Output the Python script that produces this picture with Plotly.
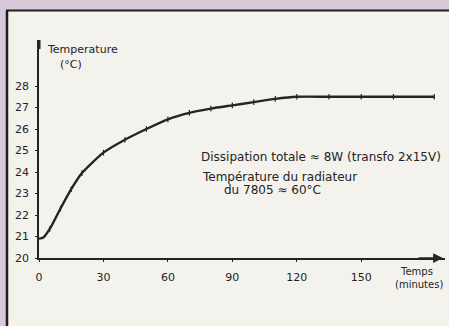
import plotly.graph_objects as go

# couleurs du scan
PAPER = "#f3f2ed"
FRAME = "#d9c7da"
INK = "#242424"

# temps (minutes) / température (°C)
temps = [0, 2, 5, 10, 15, 20, 30, 40, 50, 60, 70, 80, 90, 100, 110, 120, 135, 150, 165, 184]
temperature = [20.9, 20.95, 21.35, 22.3, 23.2, 23.95, 24.9, 25.5, 26.0, 26.45, 26.75,
               26.95, 27.1, 27.25, 27.4, 27.5, 27.5, 27.5, 27.5, 27.5]

x_ticks = [0, 30, 60, 90, 120, 150]
y_ticks = [20, 21, 22, 23, 24, 25, 26, 27, 28]

FONT = "DejaVu Sans"

fig = go.Figure()

fig.add_trace(go.Scatter(
    x=temps, y=temperature,
    mode="lines",
    line=dict(color=INK, width=2.4, shape="spline", smoothing=0.6),
    hoverinfo="skip",
))

# petits traits de mesure sur la courbe
fig.add_trace(go.Scatter(
    x=temps[2:], y=temperature[2:],
    mode="markers",
    marker=dict(symbol="line-ns", size=4, line=dict(color=INK, width=1.2)),
    hoverinfo="skip",
))

fig.update_layout(
    width=449, height=326,
    margin=dict(l=39, r=4, t=40, b=68),
    paper_bgcolor=PAPER,
    plot_bgcolor="rgba(0,0,0,0)",
    showlegend=False,
    font=dict(family=FONT, size=10, color=INK),
)

fig.update_xaxes(
    range=[0, 189], tickvals=x_ticks, showgrid=False, zeroline=False,
    showline=True, linecolor=INK, linewidth=1.6, automargin=False,
    ticks="outside", ticklen=2, tickcolor=INK, ticklabelstandoff=6,
    tickfont=dict(size=11),
)
fig.update_yaxes(
    range=[20, 30.14], tickvals=y_ticks, showgrid=False, zeroline=False,
    showline=True, linecolor=INK, linewidth=1.6, automargin=False,
    ticks="outside", ticklen=2, tickcolor=INK, ticklabelstandoff=4,
    tickfont=dict(size=11),
)

# bandes mauves (haut, gauche) et bordure noire du cadre
fig.add_shape(type="rect", xref="paper", yref="paper",
              x0=-0.2, x1=1.2, y0=(258 - 10) / 218, y1=1.3,
              fillcolor=FRAME, line_width=0, layer="below")
fig.add_shape(type="rect", xref="paper", yref="paper",
              x0=-0.2, x1=(6 - 39) / 406, y0=-0.4, y1=1.3,
              fillcolor=FRAME, line_width=0, layer="below")
fig.add_shape(type="line", xref="paper", yref="paper",
              x0=(7 - 39) / 406, x1=(7 - 39) / 406, y0=-0.4, y1=(258 - 10.5) / 218,
              line=dict(color="#1e1e1e", width=2.5))
fig.add_shape(type="line", xref="paper", yref="paper",
              x0=(6 - 39) / 406, x1=1.2, y0=(258 - 10.5) / 218, y1=(258 - 10.5) / 218,
              line=dict(color="#1e1e1e", width=2))
# bout épaissi de l'axe vertical
fig.add_shape(type="line", xref="paper", yref="paper",
              x0=0, x1=0, y0=(258 - 49) / 218, y1=1,
              line=dict(color=INK, width=3))

# flèche de l'axe des temps
fig.add_annotation(x=188, y=20, ax=176, ay=20, xref="x", yref="y", axref="x", ayref="y",
                   text="", showarrow=True, arrowhead=2, arrowsize=1.3,
                   arrowwidth=1.5, arrowcolor=INK)

# (texte, gauche en px, centre vertical en px, taille)
textes = [
    ("Temperature", 45, 50, 11),
    ("(°C)", 58, 64, 11),
    ("Temps", 398, 271, 10),
    ("(minutes)", 393, 284, 10),
    ("Dissipation totale ≈ 8W (transfo 2x15V)", 199, 157, 12),
    ("Température du radiateur", 200, 177, 12),
    ("du 7805 ≈ 60°C", 222, 190, 12),
]
for txt, px, py, size in textes:
    fig.add_annotation(xref="paper", yref="paper",
                       x=(px - 39) / 406, y=(258 - py) / 218,
                       xanchor="left", yanchor="middle", text=txt, showarrow=False,
                       font=dict(size=size))

# la page html a une marge de 8px par défaut
fig.write_html("out.html", config={"displayModeBar": False},
               post_script="document.body.style.margin='0';")
